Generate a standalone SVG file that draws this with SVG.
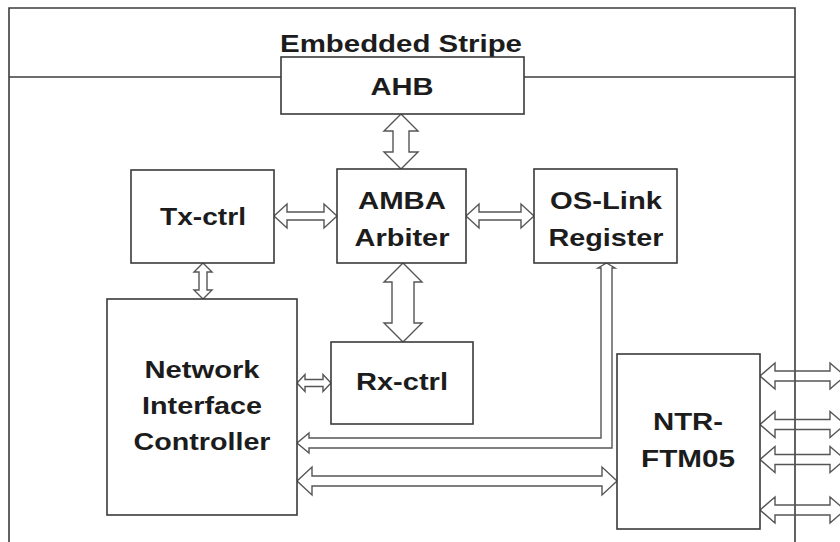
<svg xmlns="http://www.w3.org/2000/svg" width="840" height="542" viewBox="0 0 840 542">
  <style>
    .frame { fill: none; stroke: #3c3c3c; stroke-width: 1.6; }
    .box { fill: #ffffff; stroke: #3a3a3a; stroke-width: 1.6; }
    .bus { fill: #ffffff; stroke: #555555; stroke-width: 1.4; stroke-linejoin: miter; }
    .bus-open { fill: none; stroke: #555555; stroke-width: 1.4; }
    .label { font-family: "Liberation Sans", Arial, sans-serif; font-weight: bold; font-size: 24px; fill: #1c1c1c; text-anchor: middle; }
  </style>
  <rect width="840" height="542" fill="#ffffff"/>

  <!-- stripe boundary -->
  <g id="stripe-frame">
    <path class="frame" d="M9,542 V8 H795 V542"/>
    <line class="frame" x1="9" y1="77" x2="795" y2="77"/>
    <text class="label" x="401" y="52" textLength="242" lengthAdjust="spacingAndGlyphs">Embedded Stripe</text>
  </g>

  <!-- bus connectors -->
  <g id="connectors">
    <!-- AHB <-> AMBA Arbiter -->
    <polygon class="bus" points="401,114 418,131 409,131 409,152 418,152 401,169 384,152 393,152 393,131 384,131"/>
    <!-- Tx-ctrl <-> AMBA Arbiter -->
    <polygon class="bus" points="274,216 287,204 287,212 324,212 324,204 337,216 324,228 324,220 287,220 287,228"/>
    <!-- AMBA Arbiter <-> OS-Link Register -->
    <polygon class="bus" points="466,216 479,204 479,212 521,212 521,204 534,216 521,228 521,220 479,220 479,228"/>
    <!-- Tx-ctrl <-> Network Interface Controller -->
    <polygon class="bus" points="203,263 212,272 207,272 207,290 212,290 203,299 194,290 199,290 199,272 194,272"/>
    <!-- AMBA Arbiter <-> Rx-ctrl -->
    <polygon class="bus" points="403,263 422,282 414,282 414,323 422,323 403,342 384,323 392,323 392,282 384,282"/>
    <!-- Network Interface Controller <-> Rx-ctrl -->
    <polygon class="bus" points="297,383 305,374.5 305,379.5 323,379.5 323,374.5 331,383 323,391.5 323,386.5 305,386.5 305,391.5"/>
    <!-- OS-Link Register -> Network Interface Controller -->
    <polygon class="bus-open" points="601,268 598,268 606.5,263 615,268 612,268 612,448 309,448 309,453 297,443 309,433 309,438 601,438"/>
    <!-- Network Interface Controller <-> NTR-FTM05 -->
    <polygon class="bus" points="297,481 312,467 312,476 602,476 602,467 617,481 602,495 602,486 312,486 312,495"/>
    <!-- NTR-FTM05 external links -->
    <polygon class="bus-open" points="760,376 775,363 775,371 830,371 830,363 845,376 830,389 830,381 775,381 775,389"/>
    <polygon class="bus-open" points="760,424.5 775,411.5 775,419.5 830,419.5 830,411.5 845,424.5 830,437.5 830,429.5 775,429.5 775,437.5"/>
    <polygon class="bus-open" points="760,459.5 775,446.5 775,454.5 830,454.5 830,446.5 845,459.5 830,472.5 830,464.5 775,464.5 775,472.5"/>
    <polygon class="bus-open" points="760,510 775,497 775,505 830,505 830,497 845,510 830,523 830,515 775,515 775,523"/>
  </g>

  <g id="ahb">
    <rect class="box" x="281" y="57" width="243" height="57"/>
    <text class="label" x="402" y="95" textLength="63" lengthAdjust="spacingAndGlyphs">AHB</text>
  </g>

  <g id="tx-ctrl">
    <rect class="box" x="131" y="170" width="143" height="93"/>
    <text class="label" x="203" y="225" textLength="86" lengthAdjust="spacingAndGlyphs">Tx-ctrl</text>
  </g>

  <g id="amba-arbiter">
    <rect class="box" x="337" y="169" width="129" height="94"/>
    <text class="label" x="402" y="209" textLength="88" lengthAdjust="spacingAndGlyphs">AMBA</text>
    <text class="label" x="402" y="246" textLength="95" lengthAdjust="spacingAndGlyphs">Arbiter</text>
  </g>

  <g id="os-link-register">
    <rect class="box" x="534" y="169" width="143" height="94"/>
    <text class="label" x="606" y="209" textLength="112" lengthAdjust="spacingAndGlyphs">OS-Link</text>
    <text class="label" x="606" y="246" textLength="115" lengthAdjust="spacingAndGlyphs">Register</text>
  </g>

  <g id="network-interface-controller">
    <rect class="box" x="107" y="299" width="190" height="216"/>
    <text class="label" x="202" y="378" textLength="115" lengthAdjust="spacingAndGlyphs">Network</text>
    <text class="label" x="202" y="414" textLength="120" lengthAdjust="spacingAndGlyphs">Interface</text>
    <text class="label" x="202" y="450" textLength="137" lengthAdjust="spacingAndGlyphs">Controller</text>
  </g>

  <g id="rx-ctrl">
    <rect class="box" x="331" y="342" width="142" height="82"/>
    <text class="label" x="402" y="390" textLength="92" lengthAdjust="spacingAndGlyphs">Rx-ctrl</text>
  </g>

  <g id="ntr-ftm05">
    <rect class="box" x="617" y="354" width="143" height="175"/>
    <text class="label" x="688" y="430" textLength="70" lengthAdjust="spacingAndGlyphs">NTR-</text>
    <text class="label" x="688" y="467" textLength="94" lengthAdjust="spacingAndGlyphs">FTM05</text>
  </g>
</svg>
